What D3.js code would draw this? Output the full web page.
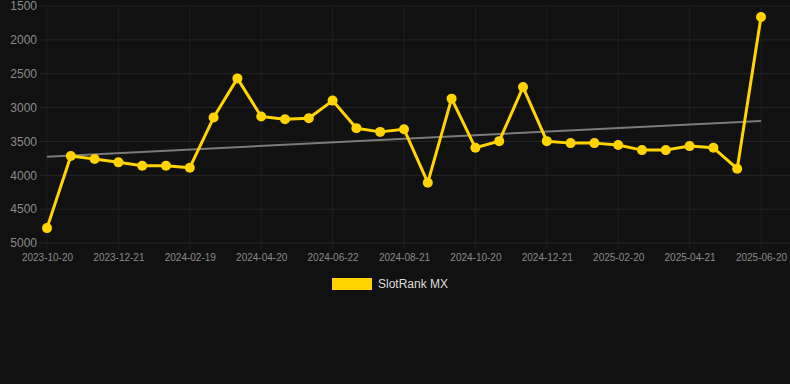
<!DOCTYPE html>
<html>
<head>
<meta charset="utf-8">
<script src="https://cdn.jsdelivr.net/npm/d3@7"></script>
<style>
  html, body { margin: 0; padding: 0; background: #111111; }
  svg { display: block; font-family: Arial, "Liberation Sans", sans-serif; }
</style>
</head>
<body>
<svg id="chart" width="790" height="384"></svg>
<script>
// Snapshot dates (one every ~20 days), only every third one is labelled
const dates = ['2023-10-20', '2023-11-09', '2023-11-30', '2023-12-21', '2024-01-10', '2024-01-30',
  '2024-02-19', '2024-03-10', '2024-03-31', '2024-04-20', '2024-05-11', '2024-06-01',
  '2024-06-22', '2024-07-12', '2024-08-01', '2024-08-21', '2024-09-10', '2024-09-30',
  '2024-10-20', '2024-11-09', '2024-11-30', '2024-12-21', '2025-01-10', '2025-01-31',
  '2025-02-20', '2025-03-12', '2025-04-01', '2025-04-21', '2025-05-11', '2025-05-31',
  '2025-06-20'];

// SlotRank MX rank values (lower is better)
const ranks = [4780, 3716, 3760, 3809, 3859, 3859, 3888, 3147, 2569, 3132, 3172, 3157,
  2897, 3304, 3359, 3319, 4109, 2868, 3594, 3496, 2697, 3496, 3525, 3525,
  3554, 3628, 3628, 3569, 3594, 3903, 1662];

// trend line, value at first and last date
const trend = [3726, 3197];

const yTicks = [1500, 2000, 2500, 3000, 3500, 4000, 4500, 5000];
const seriesName = 'SlotRank MX';

const gold = '#ffd400';

var svg = d3.select('#chart');

var x = d3.scalePoint().domain(dates).range([47, 761]);
var y = d3.scaleLinear().domain([1500, 5000]).range([6, 243]);

// grid
var grid = svg.append('g').attr('class', 'grid');
grid.selectAll('line.h')
  .data(yTicks)
  .enter()
  .append('line')
  .attr('x1', 40).attr('x2', 790)
  .attr('y1', d => y(d)).attr('y2', d => y(d))
  .attr('stroke', '#252525').attr('stroke-width', 1);

var tickDates = dates.filter((d, i) => i % 3 === 0);

grid.selectAll('line.v')
  .data(tickDates)
  .enter()
  .append('line')
  .attr('x1', d => x(d)).attr('x2', d => x(d))
  .attr('y1', 6).attr('y2', 249)
  .attr('stroke', '#1f1f1f').attr('stroke-width', 1);

// axes
var yAxis = d3.axisLeft(y).tickValues(yTicks).tickFormat(d3.format('d')).tickSize(0).tickPadding(0);
svg.append('g')
  .attr('transform', 'translate(37,0)')
  .call(yAxis)
  .call(g => g.select('.domain').remove())
  .selectAll('text')
  .attr('fill', '#8a8a8a')
  .style('font-size', '12px');

var xAxis = d3.axisBottom(x).tickValues(tickDates).tickSize(0).tickPadding(0);
svg.append('g')
  .attr('transform', 'translate(0,254)')
  .call(xAxis)
  .call(g => g.select('.domain').remove())
  .selectAll('text')
  .attr('fill', '#8a8a8a')
  .style('font-size', '10px');

// trend
svg.append('line')
  .attr('x1', x(dates[0])).attr('y1', y(trend[0]))
  .attr('x2', x(dates[dates.length - 1])).attr('y2', y(trend[1]))
  .attr('stroke', '#7a7a7a').attr('stroke-width', 2);

// series
var line = d3.line()
  .x((d, i) => x(dates[i]))
  .y(d => y(d));

svg.append('path')
  .datum(ranks)
  .attr('d', line)
  .attr('fill', 'none')
  .attr('stroke', gold)
  .attr('stroke-width', 3)
  .attr('stroke-linejoin', 'round');

svg.selectAll('circle.pt')
  .data(ranks)
  .enter()
  .append('circle')
  .attr('class', 'pt')
  .attr('cx', (d, i) => x(dates[i]))
  .attr('cy', d => y(d))
  .attr('r', 5)
  .attr('fill', gold);

// legend
var legend = svg.append('g').attr('transform', 'translate(332,278)');
legend.append('rect')
  .attr('width', 40).attr('height', 12)
  .attr('fill', gold);
legend.append('text')
  .attr('x', 46).attr('y', 6)
  .attr('dy', '0.35em')
  .attr('fill', '#dddddd')
  .style('font-size', '12px')
  .text(seriesName);
</script>
</body>
</html>
